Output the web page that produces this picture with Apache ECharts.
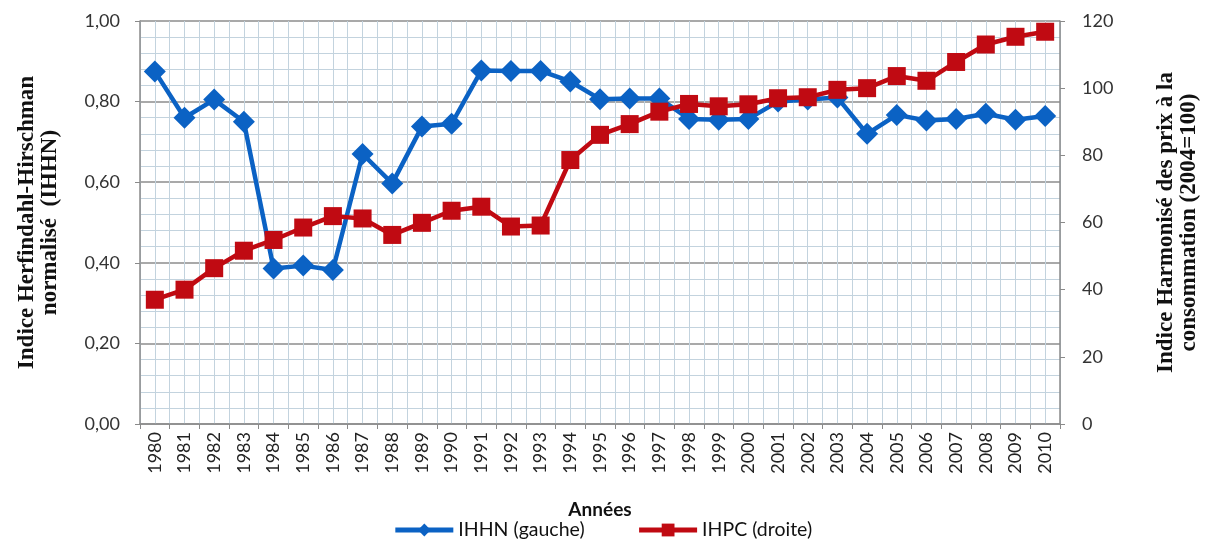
<!DOCTYPE html>
<html><head><meta charset="utf-8">
<script src="https://cdn.jsdelivr.net/npm/echarts@6/dist/echarts.min.js"></script>
<style>html,body{margin:0;padding:0;background:#fff}#c{width:1205px;height:545px}</style>
</head><body><div id="c"></div>
<script>
const years = ['1980','1981','1982','1983','1984','1985','1986','1987','1988','1989','1990','1991','1992','1993','1994','1995','1996','1997','1998','1999','2000','2001','2002','2003','2004','2005','2006','2007','2008','2009','2010'];
const ihhn = [0.875,0.76,0.805,0.75,0.386,0.393,0.382,0.67,0.597,0.738,0.745,0.877,0.876,0.876,0.85,0.806,0.808,0.808,0.757,0.755,0.757,0.80,0.805,0.81,0.72,0.767,0.753,0.757,0.77,0.755,0.764];
const ihpc = [37,40,46.4,51.6,54.8,58.5,61.9,61.2,56.3,59.9,63.5,64.7,58.8,59.1,78.6,86.1,89.3,93,95.3,94.6,95.2,97,97.3,99.5,100,103.6,102.2,107.8,113,115.3,116.8];
const leftTicks = [0,0.2,0.4,0.6,0.8,1.0];
const rightTicks = [0,20,40,60,80,100,120];

const chart = echarts.init(document.getElementById('c'), null, {renderer:'canvas'});
const sans = 'Lato, "Open Sans", sans-serif';
const serif = '"Liberation Serif", "DejaVu Serif", serif';
chart.setOption({
  animation:false,
  backgroundColor:'#fff',
  grid:{left:140,right:145,top:21,bottom:121,containLabel:false,outerBoundsMode:'none'},
  legend:{
    bottom:0,left:'center',itemWidth:58,itemHeight:16,itemGap:52,
    lineStyle:{width:5},
    textStyle:{fontFamily:sans,fontSize:19.5,color:'#111'},
    data:['IHHN (gauche)','IHPC (droite)']
  },
  xAxis:[{
    type:'category',data:years,boundaryGap:true,
    name:'Années',nameLocation:'middle',nameGap:76,
    nameTextStyle:{fontFamily:sans,fontSize:19,fontWeight:'bold',color:'#111'},
    axisLine:{lineStyle:{color:'#8a8a8a',width:1.5}},
    axisTick:{show:true,alignWithLabel:false,lineStyle:{color:'#8a8a8a'}},
    axisLabel:{rotate:90,fontFamily:sans,fontSize:18,color:'#222',margin:8,interval:0},
    splitLine:{show:false}
  },{
    type:'value',min:0,max:62,interval:1,show:true,position:'top',
    axisLine:{show:false},axisTick:{show:false},axisLabel:{show:false},
    splitLine:{show:true,lineStyle:{color:'#c3d3de',width:1}}
  }],
  yAxis:[{
    type:'value',min:0,max:1,interval:0.2,position:'left',
    name:'Indice Herfindahl-Hirschman\nnormalisé  (IHHN)',nameLocation:'middle',nameGap:78,nameRotate:90,
    nameTextStyle:{fontFamily:serif,fontSize:23,fontWeight:'bold',color:'#111',lineHeight:23},
    axisLine:{show:true,lineStyle:{color:'#8a8a8a',width:1.5}},
    axisTick:{show:true,lineStyle:{color:'#8a8a8a'}},
    axisLabel:{fontFamily:sans,fontSize:18,color:'#333',margin:20,formatter:v=>v.toFixed(2).replace('.',',')},
    splitLine:{show:true,lineStyle:{color:'#8c8c8c',width:1.5}},
    minorTick:{show:false,splitNumber:5},
    minorSplitLine:{show:true,lineStyle:{color:'#c3d3de',width:1}}
  },{
    type:'value',min:0,max:120,interval:20,position:'right',
    name:'Indice Harmonisé des prix à la\nconsommation (2004=100)',nameLocation:'middle',nameGap:95,nameRotate:90,
    nameTextStyle:{fontFamily:serif,fontSize:23,fontWeight:'bold',color:'#111',lineHeight:23},
    axisLine:{show:true,lineStyle:{color:'#8a8a8a',width:1.5}},
    axisTick:{show:true,lineStyle:{color:'#8a8a8a'}},
    axisLabel:{fontFamily:sans,fontSize:18,color:'#333',margin:22},
    splitLine:{show:false}
  }],
  series:[{
    name:'IHHN (gauche)',type:'line',xAxisIndex:0,yAxisIndex:0,data:ihhn,
    symbol:'diamond',symbolSize:22,
    lineStyle:{color:'#0b62c4',width:4.5},itemStyle:{color:'#0b62c4'},z:3
  },{
    name:'IHPC (droite)',type:'line',xAxisIndex:0,yAxisIndex:1,data:ihpc,
    symbol:'rect',symbolSize:18,
    lineStyle:{color:'#c00a12',width:4.5},itemStyle:{color:'#c00a12'},z:4
  }]
});
</script></body></html>
